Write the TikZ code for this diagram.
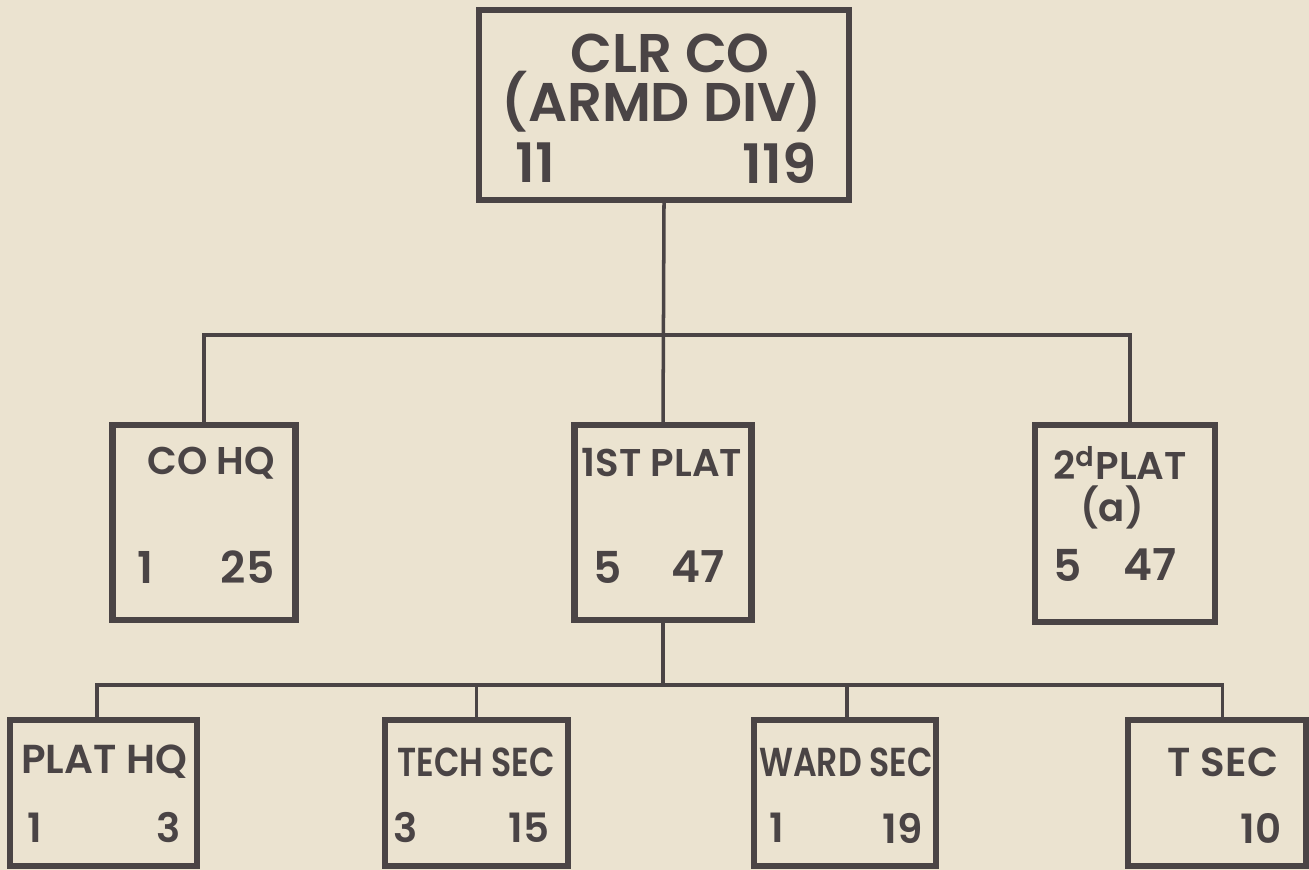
\documentclass[tikz,border=0pt]{standalone}
\usepackage{fontspec}
\setmainfont{Poppins}[UprightFont=*-SemiBold]
\newfontfamily\narrowfont{Poppins}[UprightFont=*-SemiBold, FakeStretch=0.82]
\usetikzlibrary{positioning}
\definecolor{paper}{HTML}{EBE3D0}
\definecolor{ink}{HTML}{4A4445}

\begin{document}
\begin{tikzpicture}[
    unit/.style={draw=ink, line width=1.8pt, inner sep=0pt},
    link/.style={draw=ink, line width=1pt},
    txt/.style={text=ink, inner sep=0pt, font=\fontsize{11}{13}\selectfont},
    num/.style={font=\fontsize{12.5}{15}\selectfont},
    big/.style={font=\fontsize{15.5}{18}\selectfont},
    low/.style={font=\fontsize{11.5}{13}\selectfont},
    lownarrow/.style={font=\fontsize{11.5}{13}\narrowfont}
  ]
  \useasboundingbox[fill=paper] (0,0) rectangle (13.09,8.70);

  % Company
  \node[unit, minimum width=3.7cm, minimum height=1.9cm] (clr) at (6.64,7.65) {};
  \node[txt, big] (clrname) at (6.70,8.17) {CLR CO};
  \node[txt, big] (clrdiv) at (6.62,7.68) {(ARMD DIV)};
  \node[txt, big, anchor=west] (clroff) at (5.15,7.07) {11};
  \node[txt, big, anchor=east] (clrmen) at (8.17,7.07) {119};

  % Hq and platoons
  \node[unit, minimum width=1.83cm, minimum height=1.95cm] (cohq) at (2.04,3.475) {};
  \node[txt] (cohqname) at (2.11,4.07) {CO HQ};
  \node[txt, num, anchor=west] (cohqoff) at (1.37,3.03) {1};
  \node[txt, num, anchor=east] (cohqmen) at (2.75,3.03) {25};

  \node[unit, minimum width=1.77cm, minimum height=1.95cm] (plat1) at (6.63,3.475) {};
  \node[txt] (plat1name) at (6.62,4.07) {1ST PLAT};
  \node[txt, num, anchor=west] (plat1off) at (5.93,3.03) {5};
  \node[txt, num, anchor=east] (plat1men) at (7.25,3.03) {47};

  \node[unit, minimum width=1.80cm, minimum height=1.97cm] (plat2) at (11.25,3.465) {};
  \node[txt] (plat2name) at (11.20,4.07) {2\textsuperscript{d}PLAT};
  \node[txt] (plat2note) at (11.12,3.63) {(a)};
  \node[txt, num, anchor=west] (plat2off) at (10.53,3.05) {5};
  \node[txt, num, anchor=east] (plat2men) at (11.77,3.05) {47};

  % Sections
  \node[unit, minimum width=1.87cm, minimum height=1.46cm] (plathq) at (1.035,0.77) {};
  \node[txt, low] (plathqname) at (1.04,1.08) {PLAT HQ};
  \node[txt, low, anchor=west] (plathqoff) at (0.27,0.42) {1};
  \node[txt, low, anchor=east] (plathqmen) at (1.81,0.42) {3};

  \node[unit, minimum width=1.83cm, minimum height=1.46cm] (techsec) at (4.765,0.77) {};
  \node[txt, lownarrow] (techsecname) at (4.76,1.08) {TECH SEC};
  \node[txt, low, anchor=west] (techsecoff) at (3.93,0.42) {3};
  \node[txt, low, anchor=east] (techsecmen) at (5.50,0.42) {15};

  \node[unit, minimum width=1.82cm, minimum height=1.46cm] (wardsec) at (8.45,0.77) {};
  \node[txt, lownarrow] (wardsecname) at (8.46,1.08) {WARD SEC};
  \node[txt, low, anchor=west] (wardsecoff) at (7.69,0.42) {1};
  \node[txt, low, anchor=east] (wardsecmen) at (9.23,0.42) {19};

  \node[unit, minimum width=1.78cm, minimum height=1.46cm] (tsec) at (12.17,0.77) {};
  \node[txt, low] (tsecname) at (12.23,1.08) {T SEC};
  \node[txt, low, anchor=east] (tsecmen) at (12.82,0.42) {10};

  % Lines
  \coordinate (bus1) at (6.63,5.35);
  \coordinate (bus2) at (6.63,1.85);
  \draw[link] (clr.south) -- (plat1.north);
  \draw[link] (cohq.north) |- (bus1) -| ([xshift=0.5mm]plat2.north);
  \draw[link] (plat1.south) -- (bus2);
  \draw[link] ([xshift=-0.65mm]plathq.north) |- (bus2) -| ([xshift=0.55mm]tsec.north);
  \draw[link] (techsec.north) -- (techsec.north |- bus2);
  \draw[link] ([xshift=0.2mm]wardsec.north) -- ([xshift=0.2mm]wardsec.north |- bus2);
\end{tikzpicture}
\end{document}
